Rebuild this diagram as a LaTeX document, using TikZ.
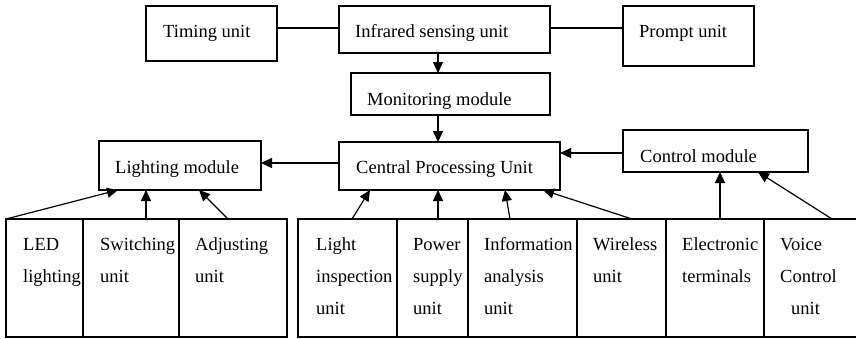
\documentclass[tikz,border=0pt]{standalone}
\usepackage{fontspec}
\setmainfont{Liberation Serif}
\usetikzlibrary{arrows.meta,calc}
\begin{document}
\begin{tikzpicture}[x=1pt,y=-1pt,
  box/.style={draw,line width=1.2pt,rectangle,inner sep=0pt,outer sep=0pt,anchor=north west},
  txt/.style={anchor=base west,inner sep=0pt,align=left,font=\fontsize{18.5}{32}\selectfont},
  conn/.style={line width=1.2pt},
  arr/.style={line width=1.2pt,-{Triangle[length=11pt,width=10pt]}}]
\useasboundingbox (0,0) rectangle (856,338);
\clip (0,0) rectangle (856,338);
% top row
\node[box,minimum width=131pt,minimum height=55pt] (timing) at (146,6) {};
\node[box,minimum width=211pt,minimum height=47pt] (infra) at (339,6) {};
\node[box,minimum width=131pt,minimum height=60pt] (prompt) at (623,6) {};
\node[box,minimum width=199pt,minimum height=42pt] (monitor) at (351,73) {};
\node[box,minimum width=221pt,minimum height=48pt] (cpu) at (339,142) {};
\node[box,minimum width=162pt,minimum height=49pt] (light) at (99,141) {};
\node[box,minimum width=185pt,minimum height=42pt] (control) at (623,130) {};
% bottom row
\node[box,minimum width=77pt,minimum height=118pt] (led) at (6,219) {};
\node[box,minimum width=96pt,minimum height=118pt] (switch) at (83,219) {};
\node[box,minimum width=108pt,minimum height=118pt] (adjust) at (179,219) {};
\node[box,minimum width=99pt,minimum height=118pt] (inspect) at (298,219) {};
\node[box,minimum width=71pt,minimum height=118pt] (power) at (397,219) {};
\node[box,minimum width=109pt,minimum height=118pt] (info) at (468,219) {};
\node[box,minimum width=89pt,minimum height=118pt] (wireless) at (577,219) {};
\node[box,minimum width=98pt,minimum height=118pt] (electronic) at (666,219) {};
\node[box,minimum width=110pt,minimum height=118pt] (voice) at (764,219) {};
% texts (base = baseline of the last line)
\node[txt] at (163,37) {Timing unit};
\node[txt] at (355,37) {Infrared sensing unit};
\node[txt] at (639,37) {Prompt unit};
\node[txt] at (367,105) {Monitoring module};
\node[txt] at (356,173) {Central Processing Unit};
\node[txt] at (115,173) {Lighting module};
\node[txt] at (640,162) {Control module};
\node[txt] at (23,282) {LED\\lighting};
\node[txt] at (100,282) {Switching\\unit};
\node[txt] at (195,282) {Adjusting\\unit};
\node[txt] at (316,314) {Light\\inspection\\unit};
\node[txt] at (413,314) {Power\\supply\\unit};
\node[txt] at (484,314) {Information\\analysis\\unit};
\node[txt] at (593,282) {Wireless\\unit};
\node[txt] at (682,282) {Electronic\\terminals};
\node[txt] at (780,314) {Voice\\Control\\\hspace*{11pt}unit};
% connectors
\coordinate (vx) at (438,0);
\coordinate (h1) at (0,163);
\coordinate (h2) at (0,153);
\coordinate (h3) at (0,28);
\draw[conn] (timing.east |- h3) -- (infra.west |- h3);
\draw[conn] (infra.east |- h3) -- (prompt.west |- h3);
\draw[arr] (infra.south -| vx) -- (monitor.north -| vx);
\draw[arr] (monitor.south -| vx) -- (cpu.north -| vx);
\draw[arr] (cpu.west |- h1) -- (light.east |- h1);
\draw[arr] (control.west |- h2) -- (cpu.east |- h2);
\draw[arr] (led.north west) -- ($(light.south west)+(19,0)$);
\draw[arr] ($(switch.north west)+(63,0)$) -- ($(light.south west)+(47,0)$);
\draw[arr] ($(adjust.north west)+(49,0)$) -- ($(light.south west)+(100,0)$);
\draw[arr] ($(inspect.north west)+(54,0)$) -- ($(cpu.south west)+(31,0)$);
\draw[arr] ($(power.north west)+(41,0)$) -- ($(cpu.south west)+(99,0)$);
\draw[arr] ($(info.north west)+(42,0)$) -- ($(cpu.south west)+(166,0)$);
\draw[arr] ($(wireless.north west)+(55,0)$) -- ($(cpu.south west)+(204,0)$);
\draw[arr] ($(electronic.north west)+(54,0)$) -- ($(control.south west)+(97,0)$);
\draw[arr] ($(voice.north west)+(68,0)$) -- ($(control.south west)+(135,0)$);
\end{tikzpicture}
\end{document}
